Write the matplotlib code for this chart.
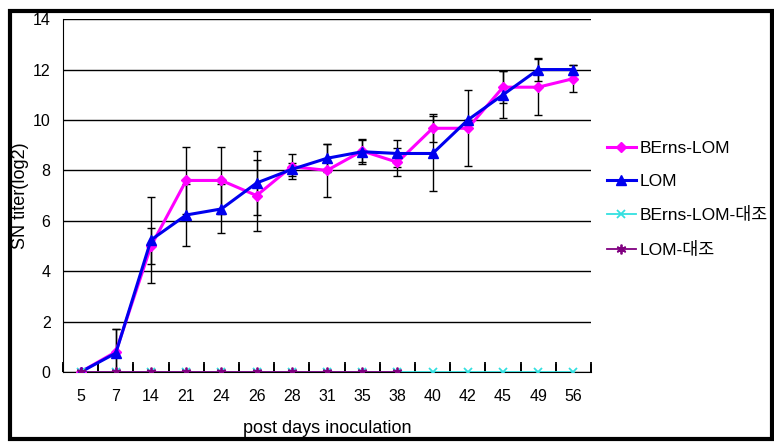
import numpy as np
import matplotlib
matplotlib.use("Agg")
from matplotlib import pyplot as plt
from matplotlib.patches import Rectangle

plt.rcParams['font.family'] = ['Liberation Sans', 'Noto Sans CJK KR', 'DejaVu Sans']

days = ["5", "7", "14", "21", "24", "26", "28", "31", "35", "38", "40", "42", "45", "49", "56"]

berns_lom = [0, 0.8, 5.0, 7.6, 7.6, 7.0, 8.15, 8.0, 8.77, 8.32, 9.67, 9.67, 11.3, 11.3, 11.64]
berns_lom_err = [0, 0.9, 0.72, 1.33, 1.33, 1.4, 0.48, 1.04, 0.45, 0.55, 0.55, 1.5, 0.63, 1.12, 0.55]

lom = [0, 0.75, 5.24, 6.23, 6.47, 7.5, 8.04, 8.48, 8.74, 8.67, 8.67, 10.0, 11.0, 12.0, 12.0]
lom_err = [0, 0.95, 1.7, 1.24, 0.97, 1.28, 0.25, 0.55, 0.5, 0.55, 1.5, 0.0, 0.93, 0.47, 0.2]

berns_lom_ctrl = [0] * 15
lom_ctrl = [0] * 10

x = np.arange(len(days))

fig = plt.figure(figsize=(7.74, 4.45), dpi=100)
ax = fig.add_axes([0.0814, 0.164, 0.6822, 0.793])

ax.errorbar(x, berns_lom, yerr=berns_lom_err, fmt='none', ecolor='black',
            elinewidth=1, capsize=3, capthick=1, zorder=3)
ax.errorbar(x, lom, yerr=lom_err, fmt='none', ecolor='black',
            elinewidth=1, capsize=3, capthick=1, zorder=3)

ax.plot(x, berns_lom, color='#ff00ff', lw=2.2, marker='D', ms=5.5,
        label='BErns-LOM', zorder=4)
ax.plot(x, lom, color='#0000ee', lw=2.2, marker='^', ms=7,
        label='LOM', zorder=5)
ax.plot(x, berns_lom_ctrl, color='#33e0e0', lw=1.3, marker='x', ms=6, mew=1.3,
        label='BErns-LOM-대조', zorder=6)
ax.plot(x[:len(lom_ctrl)], lom_ctrl, color='#800080', lw=1.3, marker=(6, 2, 0), ms=7, mew=1.3,
        label='LOM-대조', zorder=7)

ax.set_xlim(-0.5, len(days) - 0.5)
ax.set_ylim(0, 14)
ax.set_yticks(range(0, 15, 2))
ax.yaxis.grid(True, color='black', lw=1, zorder=1)
ax.tick_params(axis='y', length=0, labelsize=11.5, pad=9)

# category boundaries get the tick marks, labels sit at the centres
bounds = np.arange(-0.5, len(days))
ax.set_xticks(bounds)
ax.set_xticklabels([])
ax.set_xticks(x, minor=True)
ax.set_xticklabels(days, minor=True)
ax.tick_params(axis='x', which='major', direction='in', length=7, width=1.3, color='black')
ax.tick_params(axis='x', which='minor', length=0, labelsize=11.5, pad=12)
ax.vlines(bounds, 0, 0.022, transform=ax.get_xaxis_transform(), color='black',
          lw=1.2, zorder=2, clip_on=False)
ax.spines['top'].set_visible(False)
ax.spines['right'].set_visible(False)

ax.set_ylabel('SN titer(log2)', fontsize=13)
ax.yaxis.set_label_coords(-0.065, 0.5)
ax.set_xlabel('post days inoculation', fontsize=13)
ax.xaxis.set_label_coords(0.5, -0.135)

ax.legend(loc='upper left', bbox_to_anchor=(1.0, 0.70), frameon=False,
          fontsize=12.5, handlelength=1.7, handletextpad=0.2, labelspacing=1.05,
          borderaxespad=0.5)

fig.patches.append(Rectangle((0.0135, 0.0135), 0.9835, 0.961, transform=fig.transFigure,
                             fill=False, edgecolor='black', lw=3, zorder=10))

fig.savefig('out.png', dpi=100)
